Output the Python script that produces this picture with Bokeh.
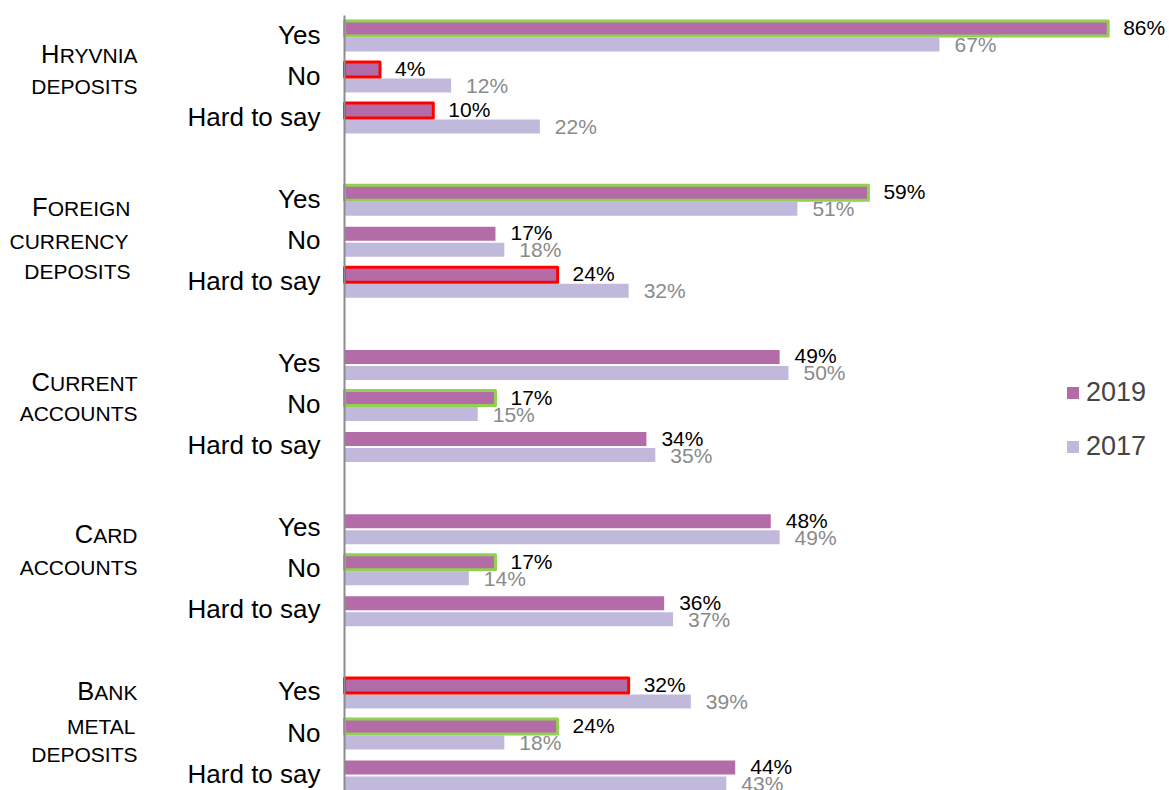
from bokeh.plotting import figure
from bokeh.models import Range1d, Label, Legend, LegendItem, ColumnDataSource
from bokeh.embed import file_html
from bokeh.resources import INLINE
from bokeh.core.properties import value

# ---------------- data ----------------
groups = [["Hryvnia", "deposits"],
          ["Foreign", "currency", "deposits"],
          ["Current", "accounts"],
          ["Card", "accounts"],
          ["Bank", "metal", "deposits"]]
answers = ["Yes", "No", "Hard to say"]
series = ["2019", "2017"]
v2019 = [86, 4, 10, 59, 17, 24, 49, 17, 34, 48, 17, 36, 32, 24, 44]
v2017 = [67, 12, 22, 51, 18, 32, 50, 15, 35, 49, 14, 37, 39, 18, 43]
# highlight frame of 2019 bars: "up" = green, "down" = red, "" = none
frame2019 = ["up", "down", "down", "up", "", "down", "", "up", "", "", "up", "", "down", "up", ""]

# ---------------- style / layout ----------------
W, H = 1169, 790
ZERO_PX = 344          # screen x of 0 %
PX_PER = 8.88          # pixels per percent
ROW_PX = 41.06         # pixels per row
ROW0_PX = 35           # screen y of first row
FONT = "Liberation Sans"
C2019 = "#B46CA9"
C2017 = "#C0B9DC"
FRAME_COL = {"up": "#92D050", "down": "#FF0000"}
GRAY = "#8A8A8A"
MID = -1               # correction between 'middle' baseline and cap centre (px)

# group label layout: baselines (px from the "Yes" row) and right edges (px)
grp_base = [[29, 60], [17, 50, 80], [28, 58], [16, 48], [9, 43, 71]]
grp_right = [[137, 137], [130, 128, 130], [137, 137], [137, 137], [137, 135, 137]]
BIG, SMALL = 25.5, 21
AW = dict(A=.667, B=.667, C=.722, D=.722, E=.667, F=.611, G=.778, H=.722, I=.278, J=.5,
          K=.667, L=.556, M=.833, N=.722, O=.778, P=.667, Q=.778, R=.722, S=.667, T=.611,
          U=.722, V=.667, W=.944, X=.667, Y=.667, Z=.611)
CAP = 0.716

px2d = lambda px: px / ROW_PX

rows, cats = [], []
for g in range(len(groups)):
    for c, a in enumerate(answers):
        rows.append(4 * g + c)
        cats.append(a)

p = figure(width=W, height=H, output_backend="svg", toolbar_location=None,
           x_axis_type=None, y_axis_type=None, min_border=0,
           x_range=Range1d(-ZERO_PX / PX_PER, (W - ZERO_PX) / PX_PER),
           y_range=Range1d((H - ROW0_PX) / ROW_PX, -ROW0_PX / ROW_PX))
p.outline_line_color = None
p.grid.visible = False
p.background_fill_color = "white"

y19 = [r - px2d(7) for r in rows]
y17 = [r + px2d(9) for r in rows]
bh = px2d(14)

src19 = ColumnDataSource(dict(y=y19, v=v2019, t=[f"{x}%" for x in v2019],
                              ty=[r + px2d(-7 + MID) for r in rows]))
src17 = ColumnDataSource(dict(y=y17, v=v2017, t=[f"{x}%" for x in v2017],
                              ty=[r + px2d(10 + MID) for r in rows]))

r19 = p.hbar(y="y", right="v", left=0, height=bh, source=src19,
             fill_color=C2019, line_color=None)
r17 = p.hbar(y="y", right="v", left=0, height=bh, source=src17,
             fill_color=C2017, line_color=None)

idx = [i for i, f in enumerate(frame2019) if f]
srcf = ColumnDataSource(dict(y=[y19[i] for i in idx], v=[v2019[i] for i in idx],
                             c=[FRAME_COL[frame2019[i]] for i in idx]))
p.hbar(y="y", right="v", left=0, height=bh + px2d(1), source=srcf,
       fill_alpha=0, line_color="c", line_width=3, line_join="round")

# axis line
p.segment(x0=0, y0=-px2d(20), x1=0, y1=max(rows) + 2, line_color="#8C8C8C", line_width=2)

# data labels
p.text(x="v", y="ty", text="t", source=src19, x_offset=15, text_baseline="middle",
       text_font=value(FONT), text_font_size="21px", text_color="black")
p.text(x="v", y="ty", text="t", source=src17, x_offset=15, text_baseline="middle",
       text_font=value(FONT), text_font_size="21px", text_color=GRAY)

# category labels
for r, a in zip(rows, cats):
    p.add_layout(Label(x=320, x_units="screen", y=r + px2d(MID), y_units="data",
                       text=a, text_align="right", text_baseline="middle",
                       text_font=FONT, text_font_size="26px", text_color="black"))

# group labels in small caps
for g, lines in enumerate(groups):
    for li, word in enumerate(lines):
        base = grp_base[g][li]
        ys = 4 * g + px2d(base - CAP * SMALL / 2 + MID)
        xr = grp_right[g][li]
        if li == 0:
            yb = 4 * g + px2d(base - CAP * BIG / 2 + MID)
            rest = word[1:].upper()
            rest_w = sum(AW.get(ch, .6) for ch in rest) * SMALL
            p.add_layout(Label(x=xr, x_units="screen", y=ys, y_units="data", text=rest,
                               text_align="right", text_baseline="middle",
                               text_font=FONT, text_font_size=f"{SMALL}px", text_color="black"))
            p.add_layout(Label(x=xr - rest_w, x_units="screen", y=yb, y_units="data",
                               text=word[0].upper(), text_align="right",
                               text_baseline="middle", text_font=FONT,
                               text_font_size=f"{BIG}px", text_color="black"))
        else:
            p.add_layout(Label(x=xr, x_units="screen", y=ys, y_units="data",
                               text=word.upper(), text_align="right",
                               text_baseline="middle", text_font=FONT,
                               text_font_size=f"{SMALL}px", text_color="black"))

legend = Legend(items=[LegendItem(label=series[0], renderers=[r19]),
                       LegendItem(label=series[1], renderers=[r17])],
                location=(1065, 328), glyph_width=15, glyph_height=15,
                label_text_font=FONT, label_text_font_size="27px",
                label_standoff=6, spacing=23, padding=0, margin=0,
                border_line_color=None, background_fill_alpha=0)
p.add_layout(legend)

open("out.html", "w").write(file_html(p, INLINE))
